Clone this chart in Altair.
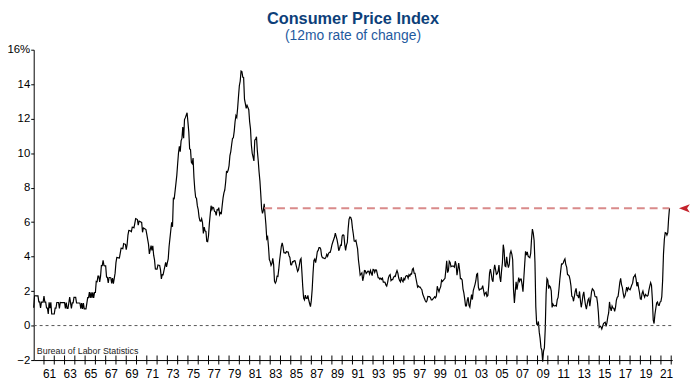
import altair as alt
import pandas as pd

# CPI-U, 12-month % change, monthly (Jan..Dec)
cpi_1960s = [
    1.03, 1.73, 1.73, 1.72, 1.72, 1.72, 1.37, 1.37, 1.02, 1.36, 1.36, 1.36,
    1.71, 1.36, 1.36, 1.02, 1.02, 0.68, 1.35, 1.01, 1.35, 0.67, 0.67, 0.67,
    0.67, 1.01, 1.01, 1.34, 1.34, 1.34, 1.00, 1.34, 1.33, 1.33, 1.33, 1.33,
    1.33, 1.00, 1.33, 0.99, 0.99, 1.32, 1.65, 1.32, 0.99, 1.32, 1.32, 1.64,
    1.64, 1.64, 1.31, 1.31, 1.31, 1.31, 1.30, 0.98, 1.30, 0.97, 1.30, 0.97,
    0.97, 0.97, 1.29, 1.62, 1.62, 1.94, 1.61, 1.93, 1.61, 1.93, 1.61, 1.92,
    1.92, 2.56, 2.54, 2.87, 2.87, 2.53, 2.85, 3.48, 3.48, 3.79, 3.48, 3.46,
    3.46, 2.81, 2.80, 2.47, 2.79, 2.79, 2.77, 2.45, 2.75, 2.43, 2.74, 3.04,
    3.65, 3.95, 3.94, 3.93, 3.92, 4.20, 4.49, 4.48, 4.46, 4.75, 4.73, 4.72,
    4.40, 4.69, 5.25, 5.52, 5.51, 5.48, 5.44, 5.71, 5.70, 5.67, 5.93, 6.20,
]
cpi_1970s = [
    6.18, 6.15, 5.82, 6.06, 6.04, 6.01, 5.98, 5.41, 5.66, 5.63, 5.60, 5.57,
    5.29, 5.00, 4.71, 4.16, 4.40, 4.64, 4.36, 4.62, 4.08, 3.81, 3.28, 3.27,
    3.27, 3.51, 3.50, 3.49, 3.23, 2.71, 2.95, 2.94, 3.19, 3.42, 3.67, 3.41,
    3.65, 3.87, 4.59, 5.06, 5.53, 5.99, 5.73, 7.38, 7.36, 7.80, 8.25, 8.71,
    9.39, 10.02, 10.39, 10.09, 10.71, 10.86, 11.51, 10.86, 11.95, 12.06, 12.20, 12.34,
    11.80, 11.23, 10.25, 10.21, 9.47, 9.39, 9.72, 8.60, 7.91, 7.44, 7.38, 6.94,
    6.72, 6.29, 6.07, 6.05, 6.20, 5.97, 5.35, 5.71, 5.49, 5.46, 4.88, 4.86,
    5.21, 5.91, 6.44, 6.95, 6.73, 6.87, 6.83, 6.62, 6.60, 6.39, 6.72, 6.70,
    6.84, 6.43, 6.55, 6.50, 6.97, 7.41, 7.70, 7.86, 8.31, 8.93, 8.89, 9.02,
    9.28, 9.86, 10.09, 10.49, 10.85, 10.89, 11.26, 11.82, 12.18, 12.07, 12.61, 13.29,
]
cpi_1980s = [
    13.91, 14.18, 14.76, 14.73, 14.41, 14.38, 13.13, 12.87, 12.60, 12.77, 12.65, 12.52,
    11.83, 11.41, 10.49, 10.00, 9.78, 9.55, 10.76, 10.80, 10.95, 10.14, 9.59, 8.92,
    8.39, 7.62, 6.78, 6.51, 6.68, 7.06, 6.44, 5.85, 5.04, 5.14, 4.59, 3.83,
    3.71, 3.49, 3.60, 3.90, 3.55, 2.58, 2.46, 2.56, 2.86, 2.85, 3.27, 3.79,
    4.19, 4.60, 4.80, 4.56, 4.23, 4.22, 4.20, 4.29, 4.27, 4.26, 4.05, 3.95,
    3.53, 3.52, 3.70, 3.69, 3.77, 3.76, 3.55, 3.35, 3.14, 3.23, 3.51, 3.80,
    3.89, 3.11, 2.26, 1.59, 1.49, 1.77, 1.58, 1.57, 1.75, 1.47, 1.28, 1.10,
    1.46, 2.10, 3.03, 3.78, 3.86, 3.65, 3.93, 4.28, 4.36, 4.53, 4.53, 4.43,
    4.05, 3.94, 3.93, 3.90, 3.89, 3.96, 4.13, 4.02, 4.17, 4.25, 4.25, 4.42,
    4.67, 4.83, 4.98, 5.12, 5.36, 5.17, 4.98, 4.71, 4.34, 4.47, 4.66, 4.65,
]
cpi_1990s = [
    5.20, 5.26, 5.23, 4.71, 4.36, 4.67, 4.82, 5.62, 6.16, 6.29, 6.27, 6.11,
    5.65, 5.31, 4.90, 4.89, 4.95, 4.70, 4.45, 3.80, 3.39, 2.92, 2.99, 3.06,
    2.60, 2.82, 3.19, 3.18, 3.02, 3.09, 3.16, 3.15, 2.99, 3.20, 3.05, 2.90,
    3.26, 3.25, 3.09, 3.23, 3.22, 3.00, 2.78, 2.77, 2.69, 2.75, 2.68, 2.75,
    2.52, 2.52, 2.51, 2.36, 2.29, 2.49, 2.77, 2.90, 2.96, 2.61, 2.67, 2.67,
    2.80, 2.86, 2.85, 3.05, 3.19, 3.04, 2.76, 2.62, 2.54, 2.81, 2.61, 2.54,
    2.73, 2.65, 2.84, 2.90, 2.89, 2.75, 2.95, 2.88, 3.00, 2.99, 3.26, 3.32,
    3.04, 3.03, 2.76, 2.50, 2.23, 2.30, 2.23, 2.23, 2.15, 2.08, 1.83, 1.70,
    1.57, 1.44, 1.37, 1.44, 1.69, 1.68, 1.68, 1.62, 1.49, 1.49, 1.55, 1.61,
    1.67, 1.61, 1.73, 2.28, 2.09, 1.96, 2.14, 2.26, 2.63, 2.56, 2.62, 2.68,
]
cpi_2000s = [
    2.74, 3.22, 3.76, 3.07, 3.19, 3.73, 3.66, 3.41, 3.45, 3.45, 3.45, 3.39,
    3.73, 3.53, 2.92, 3.27, 3.62, 3.25, 2.72, 2.72, 2.65, 2.13, 1.90, 1.55,
    1.14, 1.14, 1.48, 1.64, 1.18, 1.07, 1.46, 1.80, 1.51, 2.03, 2.20, 2.38,
    2.60, 2.98, 3.02, 2.22, 2.06, 2.11, 2.11, 2.16, 2.32, 2.04, 1.77, 1.88,
    1.93, 1.69, 1.74, 2.29, 3.05, 3.27, 2.99, 2.65, 2.54, 3.19, 3.52, 3.26,
    2.97, 3.01, 3.15, 3.51, 2.80, 2.53, 3.17, 3.64, 4.69, 4.35, 3.46, 3.42,
    3.99, 3.60, 3.36, 3.55, 4.17, 4.32, 4.15, 3.82, 2.06, 1.31, 1.97, 2.54,
    2.08, 2.42, 2.78, 2.57, 2.69, 2.69, 2.36, 1.97, 2.76, 3.54, 4.31, 4.08,
    4.28, 4.03, 3.98, 3.94, 4.18, 5.02, 5.60, 5.37, 4.94, 3.66, 1.07, 0.09,
    0.03, 0.24, -0.38, -0.74, -1.28, -1.43, -2.10, -1.48, -1.29, -0.18, 1.84, 2.72,
]
cpi_2010s = [
    2.63, 2.14, 2.31, 2.24, 2.02, 1.05, 1.24, 1.15, 1.14, 1.17, 1.14, 1.50,
    1.63, 2.11, 2.68, 3.16, 3.57, 3.56, 3.63, 3.77, 3.87, 3.53, 3.39, 2.96,
    2.93, 2.87, 2.65, 2.30, 1.70, 1.66, 1.41, 1.69, 1.99, 2.16, 1.76, 1.74,
    1.59, 1.98, 1.47, 1.06, 1.36, 1.75, 1.96, 1.52, 1.18, 0.96, 1.24, 1.50,
    1.58, 1.13, 1.51, 1.95, 2.13, 2.07, 1.99, 1.70, 1.66, 1.66, 1.32, 0.76,
    -0.09, -0.03, -0.07, -0.20, -0.04, 0.12, 0.17, 0.20, -0.04, 0.17, 0.50, 0.73,
    1.37, 1.02, 0.85, 1.13, 1.02, 1.01, 0.83, 1.06, 1.46, 1.64, 1.69, 2.07,
    2.50, 2.74, 2.38, 2.20, 1.87, 1.63, 1.73, 1.94, 2.23, 2.04, 2.20, 2.11,
    2.07, 2.21, 2.36, 2.46, 2.80, 2.87, 2.95, 2.70, 2.28, 2.52, 2.18, 1.91,
    1.55, 1.52, 1.86, 2.00, 1.79, 1.65, 1.81, 1.75, 1.71, 1.76, 2.05, 2.29,
]
cpi_2020s = [
    2.49, 2.33, 1.54, 0.33, 0.12, 0.65, 0.99, 1.31, 1.37, 1.18, 1.17, 1.36,
    1.40, 1.68, 2.62, 4.16, 4.99, 5.39, 5.37, 5.25, 5.39, 6.22, 6.81,
]

start_year = 1960
y_ticks = [-2, 0, 2, 4, 6, 8, 10, 12, 14, 16]
year_ticks = list(range(1961, 2023))
label_years = list(range(1961, 2022, 2))
ref_level = 6.8
ref_start = 1982 + 5 / 12
source_text = "Bureau of Labor Statistics"

values = cpi_1960s + cpi_1970s + cpi_1980s + cpi_1990s + cpi_2000s + cpi_2010s + cpi_2020s
df = pd.DataFrame({
    "t": [start_year + i / 12 for i in range(len(values))],
    "v": values,
})
t_end = float(df["t"].iloc[-1])

xscale = alt.Scale(domain=[1960, 2022.1], nice=False, zero=False)
yscale = alt.Scale(domain=[-2, 16], nice=False, zero=False)
FONT = "Liberation Sans"

# labels centred mid-year (between the yearly ticks)
x_axis = alt.Axis(
    values=[y + 0.5 for y in label_years], title=None, grid=False,
    domainColor="#000", ticks=False,
    labelExpr="substring(toString(floor(datum.value)), 2)",
    labelPadding=9, labelFontSize=12, labelColor="#000",
    labelFont=FONT, labelFlush=False, labelOverlap=False,
)
y_axis = alt.Axis(
    values=y_ticks, title=None, grid=False, domainColor="#000",
    tickColor="#000", tickSize=3, labelPadding=1, labelFontSize=11.5,
    labelColor="#000", labelFont=FONT, labelOverlap=False, labelFlush=False,
    labelExpr="datum.value == 16 ? '16%' : datum.label",
)

def X(field):
    return alt.X(field, scale=xscale, axis=x_axis)

def Y(field):
    return alt.Y(field, scale=yscale, axis=y_axis)

line = alt.Chart(df).mark_line(color="#000", strokeWidth=1.2).encode(
    x=X("t:Q"), y=Y("v:Q"),
)

zero = alt.Chart(pd.DataFrame({"x": [1960], "x2": [2022.1], "y": [0]})).mark_rule(
    color="#555", strokeDash=[3, 3], strokeWidth=1
).encode(x=X("x:Q"), x2="x2:Q", y=Y("y:Q"))

# yearly ticks crossing the x axis line
ticks = alt.Chart(pd.DataFrame({"x": year_ticks, "y": [-2] * len(year_ticks)})).mark_tick(
    orient="vertical", color="#000", thickness=1, size=9, opacity=1
).encode(x=X("x:Q"), y=Y("y:Q"))

ref_df = pd.DataFrame({"x": [ref_start], "x2": [t_end], "y": [ref_level]})
ref = alt.Chart(ref_df).mark_rule(
    color="#d98a8a", strokeDash=[8, 5], strokeWidth=2
).encode(x=X("x:Q"), x2="x2:Q", y=Y("y:Q"))

arrow_df = pd.DataFrame({"x": [t_end + 1.45], "y": [ref_level]})
arrow = alt.Chart(arrow_df).mark_point(
    shape="M-1,0 L1,-0.75 L0.5,0 L1,0.75 Z", filled=True, color="#c4222b",
    opacity=1, size=120, clip=False
).encode(x=X("x:Q"), y=Y("y:Q"))

src = alt.Chart(pd.DataFrame({"x": [1960.3], "y": [-2], "t": [source_text]})).mark_text(
    align="left", baseline="alphabetic", dy=-6, fontSize=9, font=FONT, color="#222"
).encode(x=X("x:Q"), y=Y("y:Q"), text="t:N")

chart = alt.layer(line, zero, ref, ticks, arrow, src).properties(
    width=646, height=314,
    autosize="none",
    padding={"left": 26, "top": 40, "right": 20, "bottom": 19},
    title=alt.TitleParams(
        text="Consumer Price Index",
        subtitle="(12mo rate of change)",
        anchor="middle", frame="group", offset=1,
        font=FONT, fontSize=16.5, fontWeight="bold", color="#0d3f7a",
        subtitleFont=FONT, subtitleFontSize=14, subtitleColor="#1f5a9e",
        subtitlePadding=1,
    ),
).configure_view(stroke=None)

chart.save("out.html", embed_options={"renderer": "svg", "actions": False})
